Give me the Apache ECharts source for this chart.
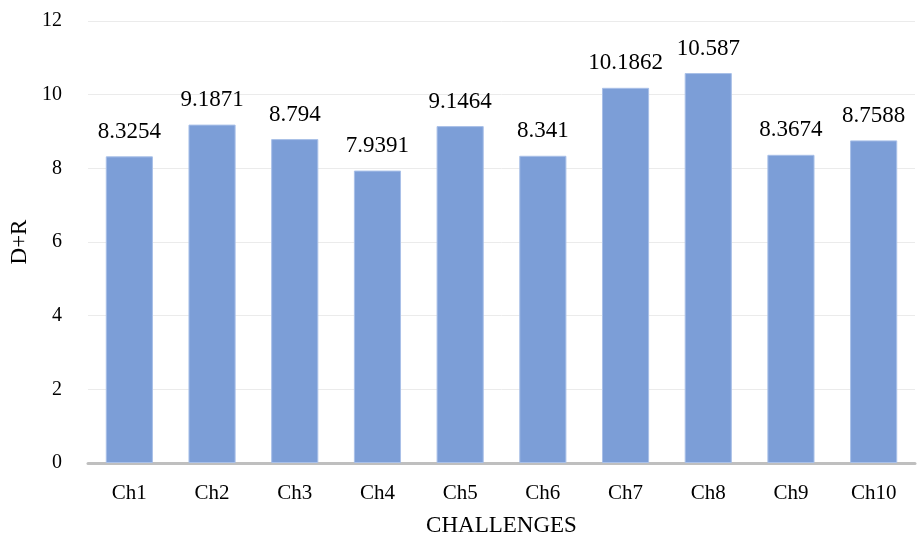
<!DOCTYPE html>
<html><head><meta charset="utf-8">
<script src="https://cdn.jsdelivr.net/npm/echarts@6/dist/echarts.min.js"></script>
<style>html,body{margin:0;padding:0;background:#fff}#c{width:918px;height:538px}</style>
</head><body><div id="c"></div>
<script>
const categories = ['Ch1','Ch2','Ch3','Ch4','Ch5','Ch6','Ch7','Ch8','Ch9','Ch10'];
const values = [8.3254, 9.1871, 8.794, 7.9391, 9.1464, 8.341, 10.1862, 10.587, 8.3674, 8.7588];
const labels = ['8.3254','9.1871','8.794','7.9391','9.1464','8.341','10.1862','10.587','8.3674','8.7588'];
const font = '"Liberation Serif", "Times New Roman", serif';
const chart = echarts.init(document.getElementById('c'));
chart.setOption({
  animation: false,
  grid: {left: 88, right: 3, top: 21, bottom: 75, containLabel: false, outerBoundsMode: 'none'},
  xAxis: {
    type: 'category', data: categories,
    name: 'CHALLENGES', nameLocation: 'middle', nameGap: 51,
    nameTextStyle: {fontFamily: font, fontSize: 23, color: '#000'},
    axisLine: {lineStyle: {color: '#bfbfbf', width: 3}},
    axisTick: {show: false},
    axisLabel: {fontFamily: font, fontSize: 21, color: '#000', margin: 20}
  },
  yAxis: {
    type: 'value', min: 0, max: 12, interval: 2,
    name: 'D+R', nameLocation: 'middle', nameGap: 56,
    nameTextStyle: {fontFamily: font, fontSize: 23, color: '#000'},
    axisLine: {show: false}, axisTick: {show: false},
    axisLabel: {fontFamily: font, fontSize: 20, color: '#000', margin: 26},
    splitLine: {lineStyle: {color: '#ebebeb', width: 1}}
  },
  series: [{
    type: 'bar', data: values, barWidth: '57%',
    itemStyle: {color: '#7c9ed7', borderColor: '#a9c0e8', borderWidth: 1},
    label: {show: true, position: 'top', distance: 13, fontFamily: font, fontSize: 23, color: '#000',
      formatter: p => labels[p.dataIndex]}
  }]
});
</script></body></html>
